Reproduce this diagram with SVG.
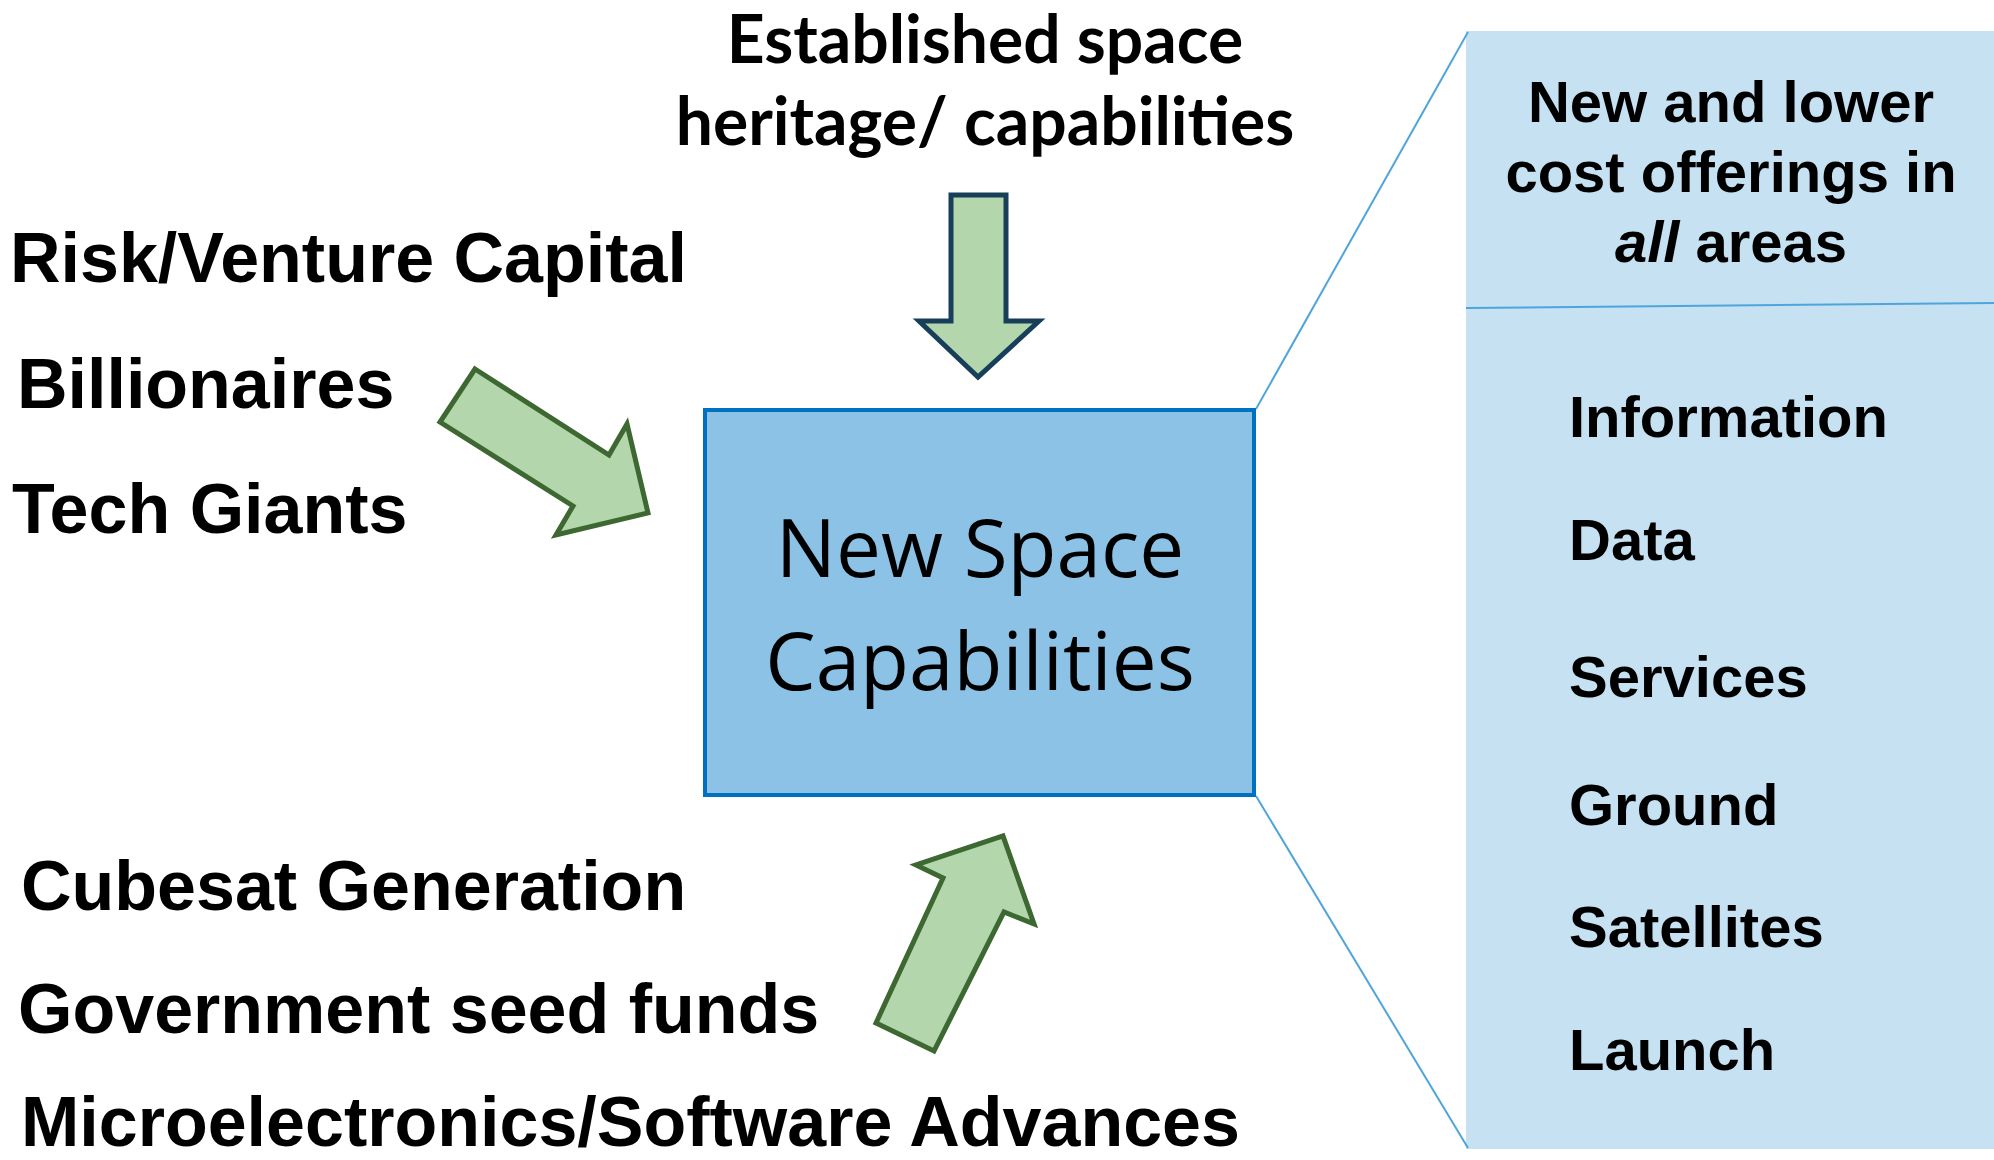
<svg xmlns="http://www.w3.org/2000/svg" width="1994" height="1160" viewBox="0 0 1994 1160">
  <style>
    .lbl { font-family: "Liberation Sans", Arial, sans-serif; font-weight: bold; fill: #000; }
    .big { font-size: 70px; }
    .item { font-size: 58px; }
    .head { font-size: 58px; text-anchor: middle; }
    .top { font-family: Lato, "Open Sans", sans-serif; font-weight: bold; font-size: 66px; text-anchor: middle; fill: #000; }
    .center { font-family: "Open Sans", "Noto Sans", sans-serif; font-size: 80px; text-anchor: middle; fill: #000; }
    .arrow-green { fill: #B3D6AD; stroke: #3D6832; stroke-width: 5; stroke-linejoin: miter; }
    .arrow-navy { fill: #B3D6AD; stroke: #173F5A; stroke-width: 5; stroke-linejoin: miter; }
    .zoomline { stroke: #4FA5DB; stroke-width: 2; fill: none; }
  </style>
  <rect x="0" y="0" width="1994" height="1160" fill="#FFFFFF"/>

  <g id="offerings-panel">
    <rect x="1466" y="31" width="528" height="1118" fill="#C5E1F2"/>
    <line class="zoomline" x1="1466" y1="308" x2="1994" y2="303"/>
    <text class="lbl head" x="1731" y="122">New and lower</text>
    <text class="lbl head" x="1731" y="192">cost offerings in</text>
    <text class="lbl head" x="1731" y="262"><tspan font-style="italic">all</tspan> areas</text>
    <text class="lbl item" x="1569" y="437">Information</text>
    <text class="lbl item" x="1569" y="560">Data</text>
    <text class="lbl item" x="1569" y="697">Services</text>
    <text class="lbl item" x="1569" y="825">Ground</text>
    <text class="lbl item" x="1569" y="947">Satellites</text>
    <text class="lbl item" x="1569" y="1070">Launch</text>
  </g>

  <g id="connectors">
    <line class="zoomline" x1="1468" y1="32" x2="1256" y2="409"/>
    <line class="zoomline" x1="1256" y1="796" x2="1468" y2="1148"/>
    <polygon id="arrow-top" class="arrow-navy" points="951,195 1006,195 1006,321 1039,321 978,377 919,321 951,321"/>
    <polygon id="arrow-left" class="arrow-green" points="475,369 609,455 627,424 648,513 556,535 573,506 440,422"/>
    <polygon id="arrow-bottom" class="arrow-green" points="876,1023 934,1051 1004,912 1034,924 1003,836 916,865 943,878"/>
  </g>

  <g id="new-space-capabilities">
    <rect x="705" y="410" width="549" height="385" fill="#8CC2E5" stroke="#0070C0" stroke-width="4"/>
    <text class="center" x="980" y="577">New Space</text>
    <text class="center" x="980" y="690">Capabilities</text>
  </g>

  <g id="established-heritage">
    <text class="top" x="985" y="63">Established space</text>
    <text class="top" x="985" y="145">heritage/ capabilities</text>
  </g>

  <g id="funding-sources">
    <text class="lbl big" x="10" y="282">Risk/Venture Capital</text>
    <text class="lbl big" x="17" y="408">Billionaires</text>
    <text class="lbl big" x="12" y="533">Tech Giants</text>
  </g>

  <g id="technology-drivers">
    <text class="lbl big" x="21" y="910">Cubesat Generation</text>
    <text class="lbl big" x="18" y="1033">Government seed funds</text>
    <text class="lbl big" x="21" y="1146">Microelectronics/Software Advances</text>
  </g>
</svg>
